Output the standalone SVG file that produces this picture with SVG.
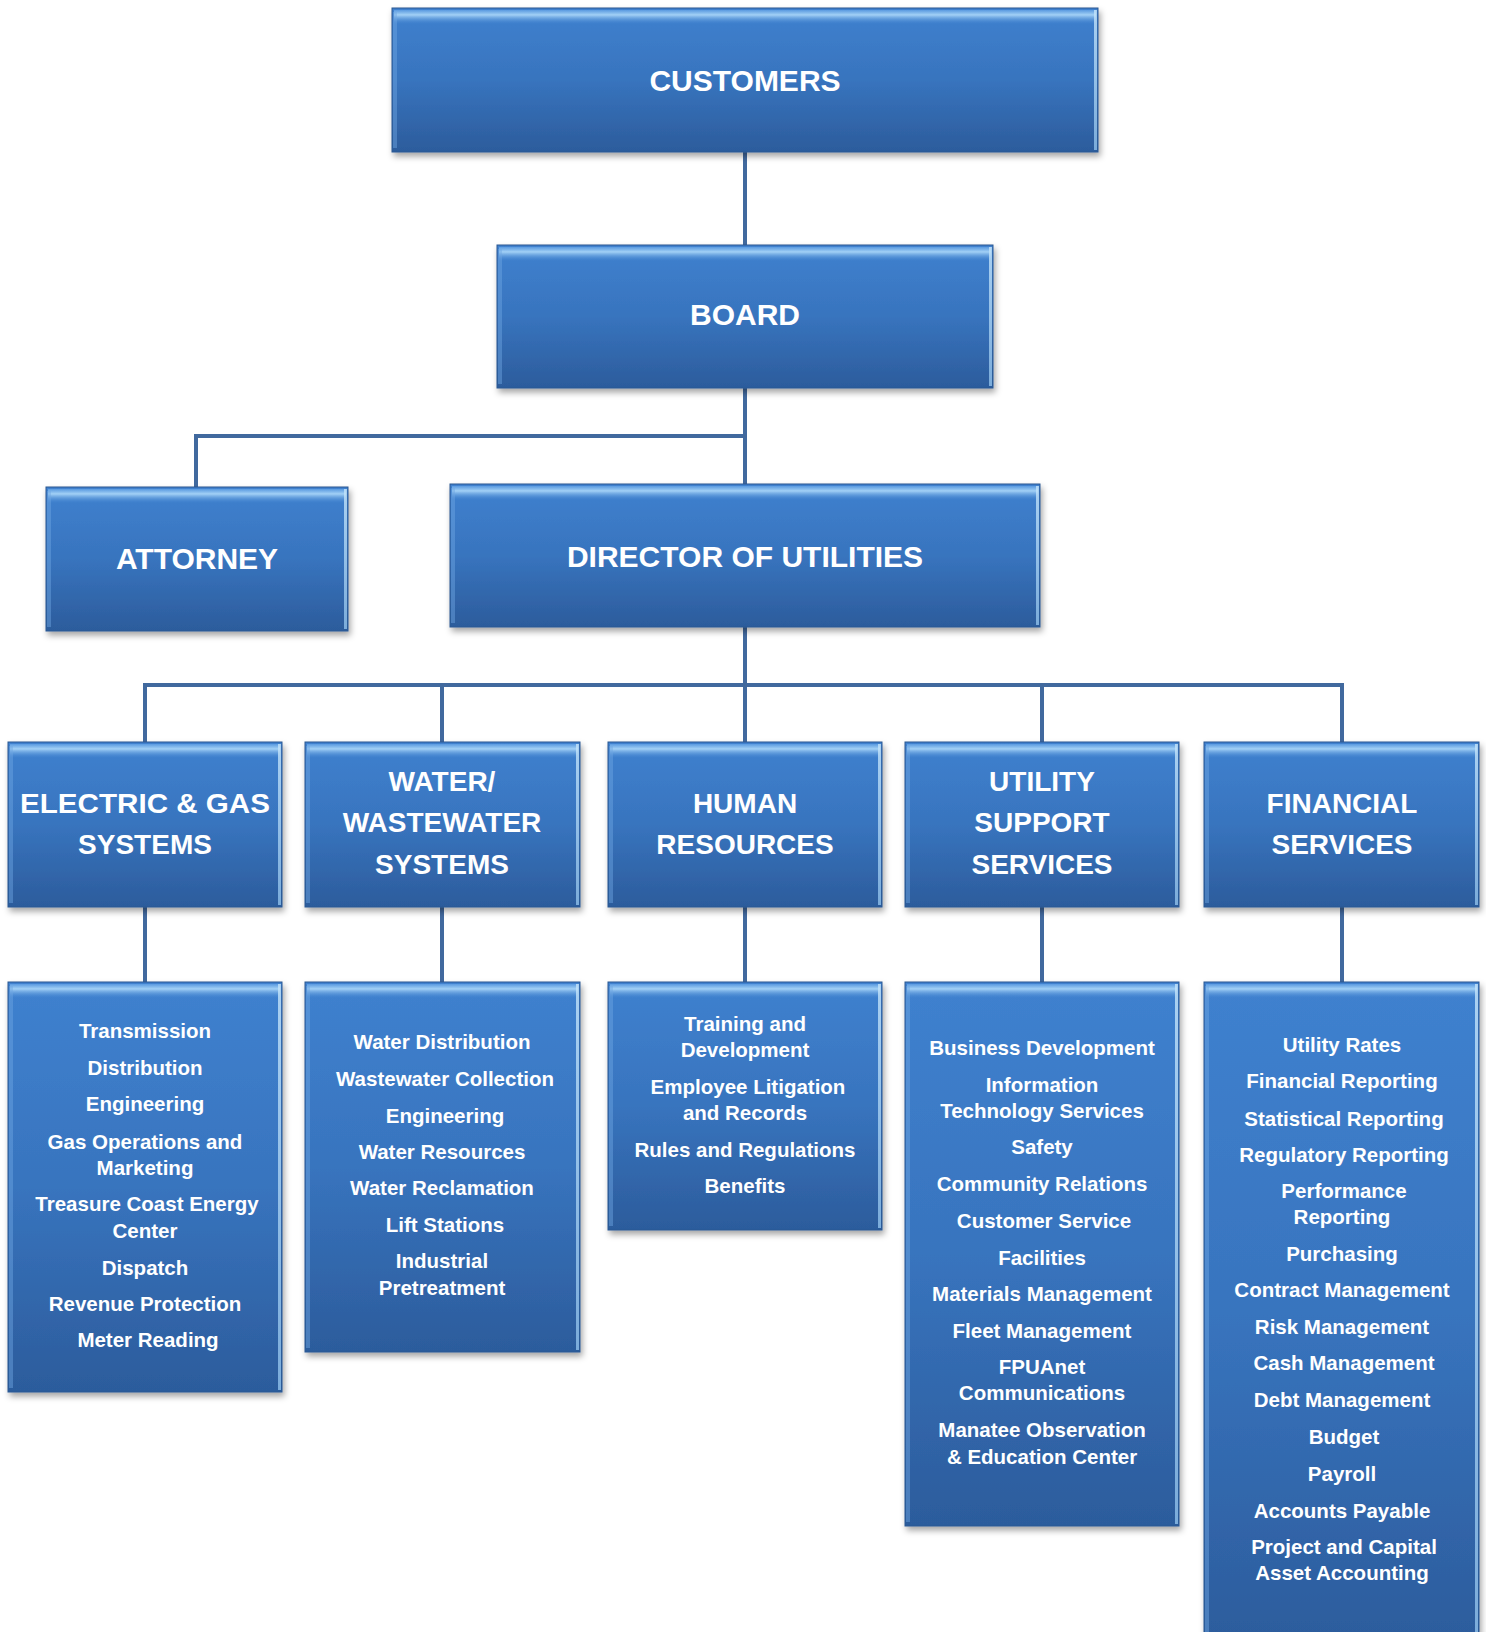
<svg xmlns="http://www.w3.org/2000/svg" width="1486" height="1632" viewBox="0 0 1486 1632">
<defs>
  <linearGradient id="fill" x1="0" y1="0" x2="0" y2="1">
    <stop offset="0" stop-color="#3f81cf"/>
    <stop offset="0.5" stop-color="#3874be"/>
    <stop offset="1" stop-color="#2c5c9c"/>
  </linearGradient>
  <linearGradient id="hl" x1="0" y1="0" x2="0" y2="1">
    <stop offset="0" stop-color="#5d9de2" stop-opacity="0.9"/>
    <stop offset="0.35" stop-color="#a8d5f8" stop-opacity="0.95"/>
    <stop offset="1" stop-color="#4f8fd8" stop-opacity="0"/>
  </linearGradient>
  <linearGradient id="rh" x1="0" y1="0" x2="0" y2="1">
    <stop offset="0" stop-color="#c4e4fa"/>
    <stop offset="1" stop-color="#8fc0ea"/>
  </linearGradient>
  <filter id="sh" x="-5%" y="-5%" width="110%" height="115%">
    <feDropShadow dx="2" dy="4" stdDeviation="3" flood-color="#000" flood-opacity="0.35"/>
  </filter>
</defs>
<style>
  .box{fill:url(#fill);stroke:#2b5892;stroke-width:1;filter:url(#sh)}
  .top{fill:url(#hl)}
  .rhl{fill:url(#rh);opacity:0.8}
  .lhl{fill:#6ea6e3;opacity:0.45}
  .conn{fill:none;stroke:#41699e;stroke-width:4}
  text{font-family:"Liberation Sans",Arial,sans-serif;font-weight:bold;fill:#fff;text-anchor:middle}
  .t1{font-size:30px}
  .t3{font-size:28px}
  .t4{font-size:20.5px}
</style>
<rect width="1486" height="1632" fill="#fff"/>

<g id="connectors">
  <path class="conn" d="M745 152 V245"/>
  <path class="conn" d="M745 388 V484"/>
  <path class="conn" d="M745 436 H196 V487"/>
  <path class="conn" d="M745 627 V685"/>
  <path class="conn" d="M145 742 V685 H1342 V742"/>
  <path class="conn" d="M442 685 V742"/>
  <path class="conn" d="M745 685 V742"/>
  <path class="conn" d="M1042 685 V742"/>
  <path class="conn" d="M145 907 V982"/>
  <path class="conn" d="M442 907 V982"/>
  <path class="conn" d="M745 907 V982"/>
  <path class="conn" d="M1042 907 V982"/>
  <path class="conn" d="M1342 907 V982"/>
</g>

<g id="customers">
  <rect class="box" x="392" y="8" width="706" height="144"/>
  <rect class="top" x="394" y="10" width="702" height="14"/>
  <rect class="lhl" x="393" y="12" width="4" height="136"/>
  <rect class="rhl" x="1094" y="10" width="3" height="140"/>
  <text class="t1" x="745" y="91">CUSTOMERS</text>
</g>

<g id="board">
  <rect class="box" x="497" y="245" width="496" height="143"/>
  <rect class="top" x="499" y="247" width="492" height="14"/>
  <rect class="lhl" x="498" y="249" width="4" height="135"/>
  <rect class="rhl" x="989" y="247" width="3" height="139"/>
  <text class="t1" x="745" y="325">BOARD</text>
</g>

<g id="attorney">
  <rect class="box" x="46" y="487" width="302" height="144"/>
  <rect class="top" x="48" y="489" width="298" height="14"/>
  <rect class="lhl" x="47" y="491" width="4" height="136"/>
  <rect class="rhl" x="344" y="489" width="3" height="140"/>
  <text class="t1" x="197" y="569">ATTORNEY</text>
</g>

<g id="director">
  <rect class="box" x="450" y="484" width="590" height="143"/>
  <rect class="top" x="452" y="486" width="586" height="14"/>
  <rect class="lhl" x="451" y="488" width="4" height="135"/>
  <rect class="rhl" x="1036" y="486" width="3" height="139"/>
  <text class="t1" x="745" y="567">DIRECTOR OF UTILITIES</text>
</g>

<g id="electric-gas">
  <rect class="box" x="8" y="742" width="274" height="165"/>
  <rect class="top" x="10" y="744" width="270" height="14"/>
  <rect class="lhl" x="9" y="746" width="4" height="157"/>
  <rect class="rhl" x="278" y="744" width="3" height="161"/>
  <text class="t3" x="145" y="813" textLength="250" lengthAdjust="spacingAndGlyphs">ELECTRIC &amp; GAS</text>
  <text class="t3" x="145" y="854">SYSTEMS</text>
</g>

<g id="water-wastewater">
  <rect class="box" x="305" y="742" width="275" height="165"/>
  <rect class="top" x="307" y="744" width="271" height="14"/>
  <rect class="lhl" x="306" y="746" width="4" height="157"/>
  <rect class="rhl" x="576" y="744" width="3" height="161"/>
  <text class="t3" x="442" y="791">WATER/</text>
  <text class="t3" x="442" y="832">WASTEWATER</text>
  <text class="t3" x="442" y="874">SYSTEMS</text>
</g>

<g id="human-resources">
  <rect class="box" x="608" y="742" width="274" height="165"/>
  <rect class="top" x="610" y="744" width="270" height="14"/>
  <rect class="lhl" x="609" y="746" width="4" height="157"/>
  <rect class="rhl" x="878" y="744" width="3" height="161"/>
  <text class="t3" x="745" y="813">HUMAN</text>
  <text class="t3" x="745" y="854">RESOURCES</text>
</g>

<g id="utility-support">
  <rect class="box" x="905" y="742" width="274" height="165"/>
  <rect class="top" x="907" y="744" width="270" height="14"/>
  <rect class="lhl" x="906" y="746" width="4" height="157"/>
  <rect class="rhl" x="1175" y="744" width="3" height="161"/>
  <text class="t3" x="1042" y="791">UTILITY</text>
  <text class="t3" x="1042" y="832">SUPPORT</text>
  <text class="t3" x="1042" y="874">SERVICES</text>
</g>

<g id="financial-services">
  <rect class="box" x="1204" y="742" width="275" height="165"/>
  <rect class="top" x="1206" y="744" width="271" height="14"/>
  <rect class="lhl" x="1205" y="746" width="4" height="157"/>
  <rect class="rhl" x="1475" y="744" width="3" height="161"/>
  <text class="t3" x="1342" y="813">FINANCIAL</text>
  <text class="t3" x="1342" y="854">SERVICES</text>
</g>

<g id="electric-gas-functions">
  <rect class="box" x="8" y="982" width="274" height="410"/>
  <rect class="top" x="10" y="984" width="270" height="14"/>
  <rect class="lhl" x="9" y="986" width="4" height="402"/>
  <rect class="rhl" x="278" y="984" width="3" height="406"/>
  <text class="t4" x="145" y="1038">Transmission</text>
  <text class="t4" x="145" y="1075">Distribution</text>
  <text class="t4" x="145" y="1111">Engineering</text>
  <text class="t4" x="145" y="1149">Gas Operations and</text>
  <text class="t4" x="145" y="1175">Marketing</text>
  <text class="t4" x="147" y="1211">Treasure Coast Energy</text>
  <text class="t4" x="145" y="1238">Center</text>
  <text class="t4" x="145" y="1275">Dispatch</text>
  <text class="t4" x="145" y="1311">Revenue Protection</text>
  <text class="t4" x="148" y="1347">Meter Reading</text>
</g>

<g id="water-functions">
  <rect class="box" x="305" y="982" width="275" height="370"/>
  <rect class="top" x="307" y="984" width="271" height="14"/>
  <rect class="lhl" x="306" y="986" width="4" height="362"/>
  <rect class="rhl" x="576" y="984" width="3" height="366"/>
  <text class="t4" x="442" y="1049">Water Distribution</text>
  <text class="t4" x="445" y="1086">Wastewater Collection</text>
  <text class="t4" x="445" y="1123">Engineering</text>
  <text class="t4" x="442" y="1159">Water Resources</text>
  <text class="t4" x="442" y="1195">Water Reclamation</text>
  <text class="t4" x="445" y="1232">Lift Stations</text>
  <text class="t4" x="442" y="1268">Industrial</text>
  <text class="t4" x="442" y="1295">Pretreatment</text>
</g>

<g id="hr-functions">
  <rect class="box" x="608" y="982" width="274" height="248"/>
  <rect class="top" x="610" y="984" width="270" height="14"/>
  <rect class="lhl" x="609" y="986" width="4" height="240"/>
  <rect class="rhl" x="878" y="984" width="3" height="244"/>
  <text class="t4" x="745" y="1031">Training and</text>
  <text class="t4" x="745" y="1057">Development</text>
  <text class="t4" x="748" y="1094">Employee Litigation</text>
  <text class="t4" x="745" y="1120">and Records</text>
  <text class="t4" x="745" y="1157">Rules and Regulations</text>
  <text class="t4" x="745" y="1193">Benefits</text>
</g>

<g id="utility-support-functions">
  <rect class="box" x="905" y="982" width="274" height="544"/>
  <rect class="top" x="907" y="984" width="270" height="14"/>
  <rect class="lhl" x="906" y="986" width="4" height="536"/>
  <rect class="rhl" x="1175" y="984" width="3" height="540"/>
  <text class="t4" x="1042" y="1055">Business Development</text>
  <text class="t4" x="1042" y="1092">Information</text>
  <text class="t4" x="1042" y="1118">Technology Services</text>
  <text class="t4" x="1042" y="1154">Safety</text>
  <text class="t4" x="1042" y="1191">Community Relations</text>
  <text class="t4" x="1044" y="1228">Customer Service</text>
  <text class="t4" x="1042" y="1265">Facilities</text>
  <text class="t4" x="1042" y="1301">Materials Management</text>
  <text class="t4" x="1042" y="1338">Fleet Management</text>
  <text class="t4" x="1042" y="1374">FPUAnet</text>
  <text class="t4" x="1042" y="1400">Communications</text>
  <text class="t4" x="1042" y="1437">Manatee Observation</text>
  <text class="t4" x="1042" y="1464">&amp; Education Center</text>
</g>

<g id="financial-functions">
  <rect class="box" x="1204" y="982" width="275" height="664"/>
  <rect class="top" x="1206" y="984" width="271" height="14"/>
  <rect class="lhl" x="1205" y="986" width="4" height="660"/>
  <rect class="rhl" x="1475" y="984" width="3" height="660"/>
  <text class="t4" x="1342" y="1052">Utility Rates</text>
  <text class="t4" x="1342" y="1088">Financial Reporting</text>
  <text class="t4" x="1344" y="1126">Statistical Reporting</text>
  <text class="t4" x="1344" y="1162">Regulatory Reporting</text>
  <text class="t4" x="1344" y="1198">Performance</text>
  <text class="t4" x="1342" y="1224">Reporting</text>
  <text class="t4" x="1342" y="1261">Purchasing</text>
  <text class="t4" x="1342" y="1297">Contract Management</text>
  <text class="t4" x="1342" y="1334">Risk Management</text>
  <text class="t4" x="1344" y="1370">Cash Management</text>
  <text class="t4" x="1342" y="1407">Debt Management</text>
  <text class="t4" x="1344" y="1444">Budget</text>
  <text class="t4" x="1342" y="1481">Payroll</text>
  <text class="t4" x="1342" y="1518">Accounts Payable</text>
  <text class="t4" x="1344" y="1554">Project and Capital</text>
  <text class="t4" x="1342" y="1580">Asset Accounting</text>
</g>
</svg>
